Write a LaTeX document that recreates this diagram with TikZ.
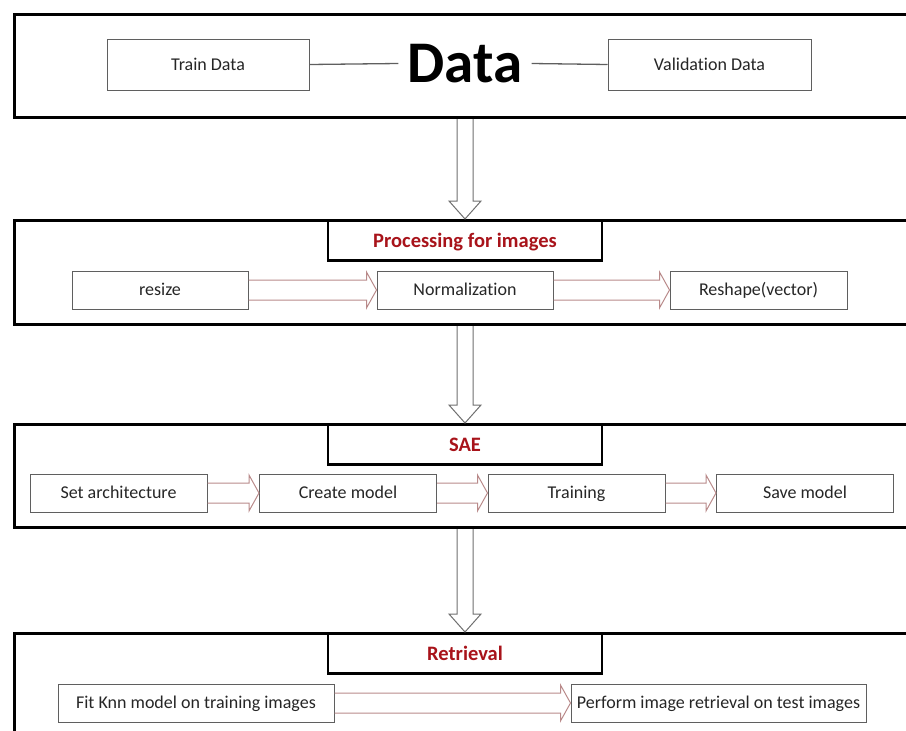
\documentclass[tikz,border=0pt]{standalone}
\usepackage{fontspec}
\setmainfont{Carlito}[Ligatures=NoCommon]
\usetikzlibrary{calc}

% hollow block arrow pointing right, from the east side of #1 to the west side of #2
\newcommand{\flowarrow}[2]{%
  \draw[flow] let \p1=(#1.east), \p2=(#2.west) in
    (\x1,\y1+10pt) -- (\x2-10pt,\y1+10pt) -- (\x2-10pt,\y1+18pt) -- (\x2,\y1)
    -- (\x2-10pt,\y1-18pt) -- (\x2-10pt,\y1-10pt) -- (\x1,\y1-10pt);}

% hollow block arrow pointing down, from #1 to the tip #2
\newcommand{\droparrow}[2]{%
  \draw[drop] let \p1=(#1), \p2=(#2) in
    (\x1-8pt,\y1) -- (\x1-8pt,\y2+18pt) -- (\x1-16pt,\y2+18pt) -- (\x2,\y2)
    -- (\x1+16pt,\y2+18pt) -- (\x1+8pt,\y2+18pt) -- (\x1+8pt,\y1);}

\begin{document}
\begin{tikzpicture}[
    x=1pt, y=-1pt,
    every node/.style={font=\fontsize{18}{20}\selectfont, text=ink},
    section/.style={draw=black, line width=3.2pt, minimum width=902pt, anchor=north west, inner sep=0pt},
    heading/.style={draw=black, line width=2.8pt, fill=white, minimum width=274pt,
        minimum height=40pt, anchor=north, inner sep=0pt, text=headred,
        text height=13.2pt, text depth=0pt,
        font=\fontsize{20.5}{22}\selectfont\bfseries},
    stepbox/.style={draw=boxgray, line width=1pt, fill=white, minimum height=38pt, inner sep=0pt,
        text height=11.6pt, text depth=0pt},
    link/.style={draw=boxgray, line width=1.3pt},
    drop/.style={draw=arrowgray, line width=1pt, fill=white},
    flow/.style={draw=flowred, line width=1pt},
]

% ---------------------------------------------------------------- colours
\definecolor{ink}{HTML}{262626}
\definecolor{headred}{HTML}{A8131A}
\definecolor{boxgray}{HTML}{5F5F5F}
\definecolor{arrowgray}{HTML}{707070}
\definecolor{flowred}{HTML}{B98A8A}

\useasboundingbox (0,0) rectangle (906,731);
\clip (0,0) rectangle (906,731);

% ================================================================
% four stacked sections, right side runs off the page
% ================================================================
\node[section, minimum height=103pt] (sec1) at (13,13) {};
\node[section, minimum height=104pt] (sec2) at (13,219) {};
\node[section, minimum height=103pt] (sec3) at (13,423) {};
\node[section, minimum height=130pt] (sec4) at (13,632) {};

% ---------------------------------------------------------------- data
\node[stepbox, minimum width=202pt, minimum height=51pt] (train) at (208,64.5) {Train Data};
\node[stepbox, minimum width=203pt, minimum height=51pt] (valid) at (709.5,64.5) {Validation Data};
\node[font=\fontsize{59}{60}\selectfont\bfseries, text=black, inner xsep=9pt, inner ysep=0pt]
    (data) at (465,63.5) {Data};
\draw[link] (train.east) -- (data.west);
\draw[link] (data.east) -- (valid.west);

% ---------------------------------------------------------------- processing
\node[heading] (ttl2) at (465,219) {Processing for images};
\node[stepbox, minimum width=176pt] (resize) at (160,290) {resize};
\node[stepbox, minimum width=176pt] (norm) at (465,290) {Normalization};
\node[stepbox, minimum width=177pt] (reshape) at (758.5,290) {Reshape(vector)};
\flowarrow{resize}{norm}
\flowarrow{norm}{reshape}

% ---------------------------------------------------------------- SAE
\node[heading] (ttl3) at (465,423) {SAE};
\node[stepbox, minimum width=177pt] (arch) at (118.5,493) {Set architecture};
\node[stepbox, minimum width=177pt] (create) at (348,493) {Create model};
\node[stepbox, minimum width=177pt] (training) at (576.5,493) {Training};
\node[stepbox, minimum width=177pt] (save) at (805,493) {Save model};
\flowarrow{arch}{create}
\flowarrow{create}{training}
\flowarrow{training}{save}

% ---------------------------------------------------------------- retrieval
\node[heading] (ttl4) at (465,632) {Retrieval};
\node[stepbox, minimum width=276pt] (fit) at (196,703) {Fit Knn model on training images};
\node[stepbox, minimum width=295pt] (perform) at (718.5,703) {Perform image retrieval on test images};
\flowarrow{fit}{perform}

% ---------------------------------------------------------------- between sections
\droparrow{sec1.south -| ttl2.north}{ttl2.north}
\droparrow{sec2.south -| ttl3.north}{ttl3.north}
\droparrow{sec3.south -| ttl4.north}{ttl4.north}

\end{tikzpicture}
\end{document}
